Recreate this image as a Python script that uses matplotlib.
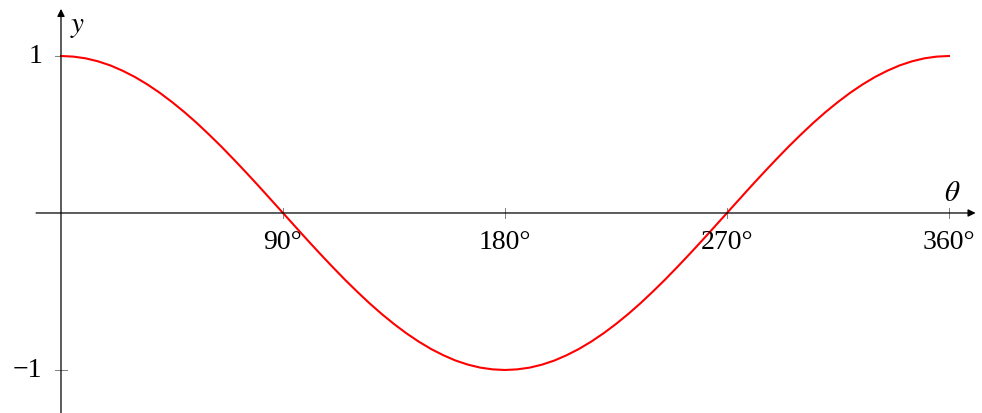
import matplotlib.pyplot as plt

plt.rcParams['font.family'] = ['Liberation Serif', 'DejaVu Serif']
plt.rcParams['mathtext.fontset'] = 'stix'

# cosine curve values, every 5 degrees
angulos = list(range(0, 361, 5))
valores = [1.0, 0.996, 0.985, 0.966, 0.94, 0.906, 0.866, 0.819, 0.766, 0.707, 0.643, 0.574,
           0.5, 0.423, 0.342, 0.259, 0.174, 0.087, 0.0, -0.087, -0.174, -0.259, -0.342, -0.423,
           -0.5, -0.574, -0.643, -0.707, -0.766, -0.819, -0.866, -0.906, -0.94, -0.966, -0.985, -0.996,
           -1.0, -0.996, -0.985, -0.966, -0.94, -0.906, -0.866, -0.819, -0.766, -0.707, -0.643, -0.574,
           -0.5, -0.423, -0.342, -0.259, -0.174, -0.087, 0.0, 0.087, 0.174, 0.259, 0.342, 0.423,
           0.5, 0.574, 0.643, 0.707, 0.766, 0.819, 0.866, 0.906, 0.94, 0.966, 0.985, 0.996, 1.0]
xticks = [90, 180, 270, 360]
xlabels = ['90°', '180°', '270°', '360°']
yticks = [-1, 1]
ylabels = ['−1', '1']

fig = plt.figure(figsize=(9.82, 4.14), dpi=100)
ax = fig.add_axes([0, 0, 1, 1])
ax.set_xlim(-24.73, 373.4)
ax.set_ylim(-1.274, 1.363)
ax.axis('off')

# curva
ax.plot(angulos, valores, color='red', lw=1.5, zorder=3)

# eixos com setas
ax.annotate('', xy=(370.8, 0), xytext=(-10.1, 0),
            arrowprops=dict(arrowstyle='-|>', color='black', lw=0.9, mutation_scale=11, shrinkA=0, shrinkB=0))
ax.annotate('', xy=(0, 1.30), xytext=(0, -1.274),
            arrowprops=dict(arrowstyle='-|>', color='black', lw=0.9, mutation_scale=11, shrinkA=0, shrinkB=0))

# marcas dos eixos
for x, lab in zip(xticks, xlabels):
    ax.plot([x, x], [-0.032, 0.032], color='gray', lw=0.7, zorder=2)
    ax.text(x, -0.10, lab, ha='center', va='top', fontsize=20)
for y, lab in zip(yticks, ylabels):
    ax.plot([-2.4, 2.4], [y, y], color='gray', lw=0.7, zorder=2)
    ax.text(-7.5, y, lab, ha='right', va='center', fontsize=20)

ax.text(3.5, 1.19, '$y$', fontsize=21, ha='left', va='center')
ax.text(361.5, 0.13, r'$\theta$', fontsize=21, ha='center', va='center')

plt.savefig('out.png', dpi=100)
